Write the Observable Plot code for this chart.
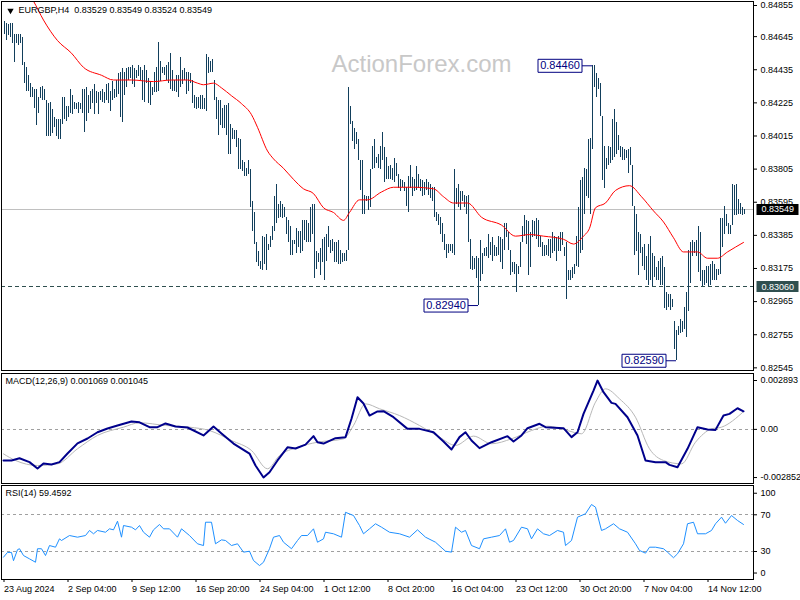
<!DOCTYPE html>
<html><head><meta charset="utf-8">
<script src="https://cdn.jsdelivr.net/npm/d3@7"></script>
<script src="https://cdn.jsdelivr.net/npm/@observablehq/plot@0.6"></script>
<style>
body{margin:0;background:#fff;}
#chart{position:relative;width:800px;height:600px;overflow:hidden;background:#fff;}
#chart svg{position:absolute;left:0;overflow:visible;}
</style></head><body><div id="chart"></div>
<script>
// ---------- data ----------
const symbolName = "EURGBP";
const timeframe = "H4";
const ohlc = ["0.83529", "0.83549", "0.83524", "0.83549"];
const lastClose = 0.83549;
const supportLevel = 0.83060;

const dateLabels = ["23 Aug 2024","2 Sep 04:00","9 Sep 12:00","16 Sep 20:00","24 Sep 04:00","1 Oct 12:00","8 Oct 20:00","16 Oct 04:00","23 Oct 12:00","30 Oct 20:00","7 Nov 04:00","14 Nov 12:00"];
const dateTicks = [0,32,64,96,128,160,192,224,256,288,320,352];
const priceTicks = [0.84855,0.84645,0.84435,0.84225,0.84015,0.83805,0.83595,0.83385,0.83175,0.82965,0.82755,0.82545];
const macdTicks = [0.002893, 0, -0.002852];

const highs = [
.8474,.8473,.8472,.8473,.8473,.8466,.8466,.8466,.8466,.8464,
.8448,.8445,.8440,.8435,.8432,.8431,.8431,.8426,.8432,.8433,
.8431,.8424,.8422,.8423,.8418,.8413,.8412,.8412,.8412,.8426,
.8426,.8420,.8420,.8431,.8427,.8423,.8422,.8423,.8422,.8431,
.8431,.8432,.8427,.8430,.8431,.8434,.8430,.8429,.8430,.8431,
.8429,.8434,.8435,.8430,.8436,.8431,.8437,.8441,.8442,.8444,
.8442,.8444,.8445,.8445,
.8446,.8444,.8443,.8446,.8445,.8443,.8446,.8443,.8438,.8436,
.8432,.8442,.8445,.8461,.8449,.8445,.8445,.8446,.8448,.8454,
.8443,.8437,.8440,.8440,.8451,.8443,.8444,.8442,.8442,.8441,
.8437,.8427,.8426,.8426,.8427,.8427,.8425,.8453,.8451,.8449,
.8450,.8437,.8426,.8424,.8424,.8419,.8421,.8421,.8422,.8409,
.8406,.8405,.8405,.8400,.8399,.8386,.8385,.8381,.8386,.8380,
.8360,.8353,.8334,.8328,.8322,.8338,.8337,.8339,.8333,.8338,
.8344,.8363,.8371,.8358,.8360,.8358,.8356,.8350,.8348,.8344,
.8335,.8335,.8343,.8341,.8341,.8348,.8348,.8348,.8346,.8356,
.8358,.8358,.8328,.8327,.8330,.8336,.8337,.8339,.8344,.8335,
.8336,.8334,.8334,.8335,.8329,.8327,.8327,.8329,.8432,.8420,
.8411,.8406,.8404,.8399,.8386,.8386,.8364,.8363,.8363,.8380,
.8395,.8399,.8388,.8390,.8395,
.8404,.8394,.8388,.8382,.8383,.8381,.8387,.8384,.8377,.8374,
.8373,.8372,.8369,.8376,.8383,.8375,.8374,.8382,.8377,.8374,
.8373,.8372,.8374,.8372,.8371,.8369,.8369,.8353,.8352,.8350,
.8346,.8339,.8333,.8333,.8333,.8333,.8380,.8368,.8371,.8366,
.8366,.8364,.8363,.8364,.8336,.8325,.8324,.8325,.8324,.8335,
.8327,.8330,.8331,.8339,.8334,.8337,.8332,.8331,.8338,.8337,
.8336,.8346,.8346,.8340,.8329,.8321,.8321,.8320,.8319,.8334,
.8344,.8351,.8348,.8347,.8340,.8348,.8347,.8349,.8348,.8338,
.8334,.8332,.8332,.8336,.8336,.8340,.8338,.8337,.8338,.8340,
.8340,.8331,.8334,.8316,.8316,.8318,.8320,.8338,.8356,.8373,
.8375,.8381,.8380,.8399,.8400,.8446,.8446,.8441,.8438,.8435,
.8414,.8395,.8387,.8395,.8394,.8412,.8418,.8410,.8402,.8395,
.8394,.8393,.8392,
.8393,.8394,.8383,.8357,.8352,.8340,.8339,.8331,.8333,.8325,
.8333,.8338,.8327,.8325,.8318,.8322,.8324,.8325,.8318,.8302,
.8301,.8301,.8298,.8284,.8278,.8281,.8285,.8284,.8293,.8302,
.8329,.8334,.8335,.8334,.8335,.8344,.8340,.8316,.8316,.8319,
.8319,.8320,.8322,.8320,.8317,.8317,.8349,.8349,.8357,.8352,
.8346,.8345,.8371,.8370,.8371,.8361,.8359,.8356,.8355];
const lows = [
.8466,.8462,.8465,.8464,.8460,.8448,.8460,.8459,.8460,.8446,
.8435,.8430,.8430,.8426,.8426,.8419,.8408,.8416,.8425,.8424,
.8424,.8401,.8401,.8401,.8403,.8407,.8401,.8399,.8399,.8409,
.8412,.8411,.8413,.8416,.8415,.8418,.8418,.8416,.8418,.8416,
.8404,.8411,.8416,.8418,.8422,.8415,.8422,.8415,.8424,.8423,
.8422,.8424,.8422,.8417,.8424,.8425,.8426,.8428,.8413,.8410,
.8427,.8432,.8437,.8438,
.8434,.8432,.8438,.8439,.8437,.8424,.8423,.8435,.8422,.8421,
.8427,.8429,.8429,.8430,.8436,.8441,.8440,.8437,.8435,.8431,
.8430,.8430,.8429,.8426,.8432,.8434,.8437,.8428,.8430,.8435,
.8422,.8419,.8418,.8419,.8418,.8418,.8418,.8417,.8441,.8442,
.8442,.8424,.8412,.8402,.8408,.8406,.8406,.8402,.8390,.8390,
.8399,.8399,.8394,.8380,.8380,.8379,.8376,.8376,.8377,.8356,
.8341,.8333,.8321,.8319,.8317,.8316,.8320,.8316,.8329,.8331,
.8335,.8341,.8346,.8349,.8350,.8349,.8350,.8339,.8334,.8326,
.8326,.8333,.8327,.8331,.8327,.8328,.8335,.8334,.8334,.8334,
.8339,.8311,.8317,.8321,.8313,.8321,.8310,.8322,.8331,.8327,
.8328,.8321,.8321,.8320,.8320,.8321,.8322,.8322,.8329,.8409,
.8398,.8393,.8396,.8386,.8367,.8352,.8352,.8360,.8354,.8356,
.8380,.8381,.8384,.8381,.8380,
.8386,.8372,.8374,.8374,.8374,.8373,.8372,.8376,.8368,.8366,
.8369,.8366,.8357,.8353,.8368,.8363,.8366,.8367,.8368,.8366,
.8363,.8364,.8367,.8364,.8362,.8360,.8350,.8347,.8345,.8339,
.8334,.8329,.8324,.8327,.8328,.8327,.8326,.8358,.8356,.8354,
.8360,.8356,.8352,.8334,.8317,.8316,.8317,.8311,.8294,.8309,
.8314,.8325,.8325,.8324,.8326,.8322,.8325,.8325,.8326,.8321,
.8317,.8329,.8337,.8329,.8313,.8315,.8314,.8302,.8314,.8318,
.8334,.8338,.8333,.8313,.8318,.8337,.8338,.8336,.8331,.8331,
.8325,.8325,.8326,.8325,.8324,.8327,.8328,.8322,.8328,.8328,
.8332,.8325,.8298,.8310,.8310,.8311,.8314,.8319,.8318,.8327,
.8329,.8352,.8363,.8362,.8352,.8393,.8432,.8426,.8431,.8414,
.8373,.8368,.8380,.8383,.8384,.8386,.8388,.8390,.8392,.8388,
.8386,.8386,.8387,
.8378,.8383,.8357,.8326,.8328,.8313,.8327,.8319,.8316,.8310,
.8307,.8310,.8306,.8312,.8310,.8310,.8307,.8307,.8292,.8291,
.8293,.8291,.8293,.8266,.8259,.8275,.8276,.8277,.8279,.8274,
.8290,.8308,.8325,.8327,.8325,.8315,.8309,.8306,.8307,.8308,
.8306,.8307,.8310,.8310,.8310,.8313,.8314,.8331,.8339,.8344,
.8339,.8339,.8345,.8351,.8351,.8352,.8352,.8351,.8352];

const maIdx = [11,15,20,27,34,40,49,55,64,75,84,92,97,100,105,109,114,119,124,127,132,135,140,145,150,155,160,165,170,173,178,182,189,195,205,215,220,225,232,239,249,256,263,270,280,285,290,293,296,301,306,313,319,325,330,335,340,347,352,357,362,370];
const maVal = [.8495,.8487,.8475,.8462,.8454,.8445,.8440,.8437,.8437,.8436,.8437,.8437,.8435,.8434,.8435,.8432,.8427,.8422,.8415,.8407,.8392,.8387,.8381,.8374,.8368,.8365,.8356,.8353,.8348,.8353,.8361,.8361,.8366,.8369,.8369,.8368,.8363,.8359,.8359,.8350,.8345,.8338,.8339,.8338,.8336,.8333,.8338,.8343,.8356,.8359,.8367,.8370,.8363,.8354,.8347,.8337,.8328,.8328,.8324,.8324,.8328,.8334];

const macdIdx = [0,4,8,13,17,20,24,28,32,37,42,47,52,57,64,68,73,77,81,86,92,100,105,109,115,123,126,130,133,137,142,146,151,155,157,160,166,171,174,177,180,183,187,190,195,202,208,215,220,224,228,231,234,238,244,252,255,259,262,268,271,280,284,287,290,295,297,300,304,306,312,317,321,326,331,333,337,342,347,352,356,360,363,367,370];
const macdVal = [-0.00184,-0.00184,-0.00171,-0.00194,-0.00232,-0.00202,-0.00208,-0.00194,-0.00143,-0.00083,-0.00054,-0.00017,0.00005,0.00023,0.00047,0.00042,0.00013,0.00013,0.00035,0.00017,0.00011,-0.00036,0.00017,-0.00024,-0.00084,-0.00143,-0.00214,-0.00285,-0.00254,-0.00184,-0.00106,-0.00113,-0.00090,-0.00040,-0.00076,-0.00084,-0.00052,-0.00046,0.00063,0.00190,0.00153,0.00082,0.00106,0.00108,0.00072,0.00003,0.00003,-0.00017,-0.00072,-0.00119,-0.00046,-0.00017,-0.00066,-0.00111,-0.00076,-0.00040,-0.00072,-0.00036,0.00007,0.00033,0.00013,0.00007,-0.00046,-0.00017,0.00092,0.00230,0.00289,0.00220,0.00157,0.00151,0.00072,-0.00036,-0.00184,-0.00194,-0.00194,-0.00210,-0.00224,-0.00115,0.00013,-0.00001,-0.00003,0.00082,0.00092,0.00125,0.00107];
const sigIdx = [0,6,17,27,37,47,60,68,81,93,103,114,124,132,138,147,157,170,175,181,188,198,208,218,226,235,244,254,264,272,282,289,296,301,308,316,323,330,339,346,354,359,370];
const sigVal = [-0.00145,-0.00184,-0.00214,-0.00204,-0.00115,-0.00036,0.00013,0.00039,0.00023,0.00013,-0.00007,-0.00066,-0.00125,-0.00233,-0.00155,-0.00106,-0.00076,-0.00056,0.00023,0.00151,0.00122,0.00082,0.00023,-0.00046,-0.00095,-0.00040,-0.00085,-0.00056,-0.00007,0.00019,-0.00007,-0.00026,0.00161,0.00240,0.00181,0.00072,-0.00115,-0.00184,-0.00204,-0.00076,0.00003,0.00013,0.00105];

const rsiIdx = [0,2,4,5,7,8,10,13,16,17,19,21,23,26,28,29,33,37,41,43,45,47,51,53,55,57,59,60,64,66,68,70,73,75,78,80,83,87,89,93,97,100,101,104,106,109,111,114,117,120,123,125,128,130,133,135,138,140,144,147,149,152,155,157,160,161,165,169,171,175,178,180,183,186,189,193,198,203,207,211,216,221,224,226,229,231,234,238,240,244,248,251,253,255,259,262,264,267,270,273,277,280,281,284,287,291,294,296,299,301,305,308,312,316,318,321,323,326,330,332,335,337,340,342,345,347,351,354,356,359,361,364,367,370];
const rsiVal = [23.8,29,29,20,32,33,25.6,22,18.3,33,33,25.6,36.5,34.7,43.8,42,47.4,45.6,47.4,52.9,49.3,52.9,51,54.7,53.6,63,45.6,58.3,56.5,53.6,58.3,51,45.6,53.6,59.4,54.7,54.7,45.6,54.7,47.4,38.4,36.5,61.9,61.9,38.4,42.7,42,36.5,38.4,29.3,30.3,20.2,14.7,18.3,33,45.6,47.4,40.1,33,42,47.4,47.4,54.7,40.1,43.8,51,49.3,45.6,72.7,69.2,58.3,49.3,54.7,60.2,56.5,51,49.3,45.6,53.6,45.6,40.1,30.3,29.3,56.5,51,52.9,36.5,33,43.8,45.6,47.4,54.7,40.1,42,56.5,54.7,43.8,54.7,49.3,47.4,52.9,51,36.5,42,67.4,71.1,81.2,78.3,52.9,54.7,60.2,54.7,51,38.4,31.1,28.2,34.7,34.7,33,29.3,23.2,27.5,38.4,60.2,61.9,49.3,49.3,52.9,60.2,67.4,60.8,69.2,63.8,59.46];
const rsiLevels = [70, 30];

const markIdx = [294, 237, 336];
const markPrice = [0.84460, 0.82940, 0.82590];

const macdTitle = "MACD(12,26,9) 0.001069 0.001045";
const rsiTitle = "RSI(14) 59.4592";
const watermark = "ActionForex.com";

// ---------- build ----------
const FONT = "Liberation Sans, Arial, sans-serif";
const BAR = "#123f5c";
const bars = highs.map((h, i) => ({i, high: h, low: lows[i]}));
const ma = maIdx.map((i, k) => ({i, v: maVal[k]}));
const macd = macdIdx.map((i, k) => ({i, v: macdVal[k]}));
const sig = sigIdx.map((i, k) => ({i, v: sigVal[k]}));
const rsi = rsiIdx.map((i, k) => ({i, v: rsiVal[k]}));
const marks = markIdx.map((i, k) => ({i, p: markPrice[k], t: markPrice[k].toFixed(5)}));
const xDomain = [-1, 375];

function boxSymbol(x0, w, h, tail) {
  return {draw(ctx) {
    ctx.moveTo(x0, -h / 2); ctx.lineTo(x0 + w, -h / 2); ctx.lineTo(x0 + w, h / 2); ctx.lineTo(x0, h / 2); ctx.closePath();
    if (tail) { ctx.moveTo(x0 + w, 0); ctx.lineTo(0, 0); }
  }};
}
const style = {fontFamily: FONT, fontSize: "9px", background: "transparent", color: "black", overflow: "visible"};
const title = `${symbolName},${timeframe}\u00a0\u00a0${ohlc.join(" ")}`;

const main = Plot.plot({
  width: 800, height: 372, marginTop: 1, marginBottom: 2, marginLeft: 1, marginRight: 47,
  style,
  x: {domain: xDomain, axis: null},
  y: {domain: [0.825282, 0.848677]},
  marks: [
    Plot.text([watermark], {frameAnchor: "top", lineAnchor: "middle", dx: 44, dy: 63, fontSize: 24, fill: "#c8c8c8", fontFamily: FONT}),
    Plot.ruleY([lastClose], {stroke: "#c0c0c0", shapeRendering: "crispEdges"}),
    Plot.ruleY([supportLevel], {stroke: "#2f4f4f", strokeDasharray: "4,3", shapeRendering: "crispEdges"}),
    Plot.ruleX(bars, {x: "i", y1: "low", y2: "high", stroke: BAR, strokeWidth: 1, dx: 0.5, shapeRendering: "crispEdges"}),
    Plot.line(ma, {x: "i", y: "v", stroke: "#ff0000", strokeWidth: 1, curve: "monotone-x", clip: true}),
    Plot.dot(marks, {x: "i", y: "p", dx: 0.5, symbol: boxSymbol(-54, 44, 13, true), r: 5, fill: "white", stroke: "#000080", strokeWidth: 1}),
    Plot.text(marks, {x: "i", y: "p", dx: -31.5, text: "t", fill: "#000080", fontSize: 11, fontFamily: FONT}),
    Plot.dot([0], {frameAnchor: "top-left", dx: 9, dy: 9, symbol: "triangle2", rotate: 180, r: 3, fill: "black"}),
    Plot.text([title], {frameAnchor: "top-left", lineAnchor: "middle", dx: 17, dy: 9, textAnchor: "start", fontSize: 9, fill: "black"}),
    Plot.frame({stroke: "black", shapeRendering: "crispEdges"}),
    Plot.axisY(priceTicks.slice(1), {anchor: "right", tickFormat: d => d.toFixed(5), tickSize: 3, tickPadding: 4, label: null, fontSize: 9}),
    Plot.axisY(priceTicks.slice(0, 1), {anchor: "right", tickFormat: d => d.toFixed(5), tickSize: 3, tickPadding: 4, label: null, fontSize: 9, dy: 2}),
    Plot.dot([lastClose], {y: d => d, frameAnchor: "right", symbol: boxSymbol(3, 42, 11, false), r: 5, fill: "black"}),
    Plot.text([lastClose], {y: d => d, frameAnchor: "right", dx: 8, textAnchor: "start", text: d => d.toFixed(5), fill: "white", fontSize: 9}),
    Plot.dot([supportLevel], {y: d => d, frameAnchor: "right", symbol: boxSymbol(3, 42, 11, false), r: 5, fill: "#2f4f4f"}),
    Plot.text([supportLevel], {y: d => d, frameAnchor: "right", dx: 8, textAnchor: "start", text: d => d.toFixed(5), fill: "white", fontSize: 9})
  ]
});

const macdPlot = Plot.plot({
  width: 800, height: 111, marginTop: 1, marginBottom: 0, marginLeft: 1, marginRight: 47,
  style,
  x: {domain: xDomain, axis: null},
  y: {domain: [-0.003204, 0.003308]},
  marks: [
    Plot.ruleY([0], {stroke: "#a0a0a0", strokeDasharray: "3,3", shapeRendering: "crispEdges"}),
    Plot.line(sig, {x: "i", y: "v", stroke: "#b8b8b8", strokeWidth: 1, curve: "monotone-x"}),
    Plot.line(macd, {x: "i", y: "v", stroke: "#00008b", strokeWidth: 2}),
    Plot.text([macdTitle], {frameAnchor: "top-left", lineAnchor: "middle", dx: 4, dy: 8, textAnchor: "start", fontSize: 9, fill: "black"}),
    Plot.frame({stroke: "black", shapeRendering: "crispEdges"}),
    Plot.axisY(macdTicks, {anchor: "right", tickFormat: d => d === 0 ? "0.00" : d.toFixed(6), tickSize: 3, tickPadding: 4, label: null, fontSize: 9})
  ]
});

const rsiPlot = Plot.plot({
  width: 800, height: 117, marginTop: 2, marginBottom: 21, marginLeft: 1, marginRight: 47,
  style,
  x: {domain: xDomain},
  y: {domain: [-0.5, 101.9]},
  marks: [
    Plot.ruleY(rsiLevels, {stroke: "#a0a0a0", strokeDasharray: "3,3", shapeRendering: "crispEdges"}),
    Plot.line(rsi, {x: "i", y: "v", stroke: "#1e90ff", strokeWidth: 1}),
    Plot.text([rsiTitle], {frameAnchor: "top-left", lineAnchor: "middle", dx: 4, dy: 8, textAnchor: "start", fontSize: 9, fill: "black"}),
    Plot.frame({stroke: "black", shapeRendering: "crispEdges"}),
    Plot.axisY(rsiLevels, {anchor: "right", tickSize: 3, tickPadding: 4, label: null, fontSize: 9}),
    Plot.axisY([100], {anchor: "right", tickSize: 3, tickPadding: 4, label: null, fontSize: 9, dy: 6}),
    Plot.axisY([0], {anchor: "right", tickSize: 3, tickPadding: 4, label: null, fontSize: 9, dy: -6}),
    Plot.axisX(dateTicks, {anchor: "bottom", tickFormat: d => dateLabels[dateTicks.indexOf(d)], textAnchor: "start", tickSize: 3, tickPadding: 3, label: null, fontSize: 9, dx: 0.5})
  ]
});

const root = document.getElementById("chart");
main.style.top = "0px";
macdPlot.style.top = "372px";
rsiPlot.style.top = "483px";
root.append(main, macdPlot, rsiPlot);
</script></body></html>
